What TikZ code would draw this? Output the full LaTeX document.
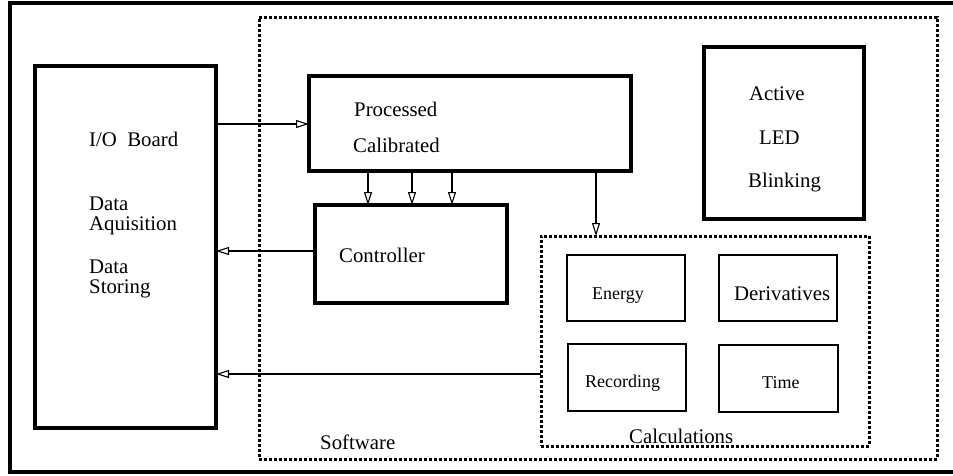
\documentclass[tikz,border=0pt]{standalone}
\usepackage{fontspec}
\setmainfont{Liberation Serif}
\usetikzlibrary{arrows.meta}
\begin{document}
\begin{tikzpicture}[x=1pt,y=-1pt,
  thickbox/.style={draw, line width=3.2pt, inner sep=0pt, outer sep=0pt},
  thinbox/.style={draw, line width=1.4pt, inner sep=0pt, outer sep=0pt},
  dotbox/.style={draw, line width=3pt, dash pattern=on 2.6pt off 2.4pt, inner sep=0pt, outer sep=0pt},
  arr/.style={line width=1.1pt, -{Triangle[open, length=13pt, width=8pt, line width=1.1pt]}},
  lbl/.style={anchor=base west, inner sep=0pt, font=\fontsize{20.8}{22}\selectfont},
  slbl/.style={anchor=base west, inner sep=0pt, font=\fontsize{18}{20}\selectfont}]
\useasboundingbox (0,0) rectangle (953,475);
\fill[white] (0,0) rectangle (953,475);
% outer frame
\node[thickbox, minimum width=950pt, minimum height=469pt] (frame) at (485,237.5) {};
% software region
\node[dotbox, minimum width=678pt, minimum height=442pt] (soft) at (598,238) {};
% boxes
\node[thickbox, minimum width=181pt, minimum height=362pt] (io) at (125.5,247) {};
\node[thickbox, minimum width=322pt, minimum height=95pt] (proc) at (470,123.5) {};
\node[thickbox, minimum width=192pt, minimum height=98pt] (ctrl) at (411,254) {};
\node[thickbox, minimum width=160pt, minimum height=172pt] (led) at (784,133) {};
\node[dotbox, minimum width=328pt, minimum height=210pt] (calc) at (705,341) {};
\node[thinbox, minimum width=118pt, minimum height=66pt] (energy) at (626,288) {};
\node[thinbox, minimum width=118pt, minimum height=66pt] (deriv) at (778,288) {};
\node[thinbox, minimum width=118pt, minimum height=67pt] (record) at (627,377.5) {};
\node[thinbox, minimum width=119pt, minimum height=67pt] (time) at (778.5,378.5) {};
% texts
\node[lbl] (tio) at (89,146) {I/O\ \ Board};
\node[lbl] (tda) at (89,210) {Data};
\node[lbl] (taq) at (89,230) {Aquisition};
\node[lbl] (tds) at (89,273) {Data};
\node[lbl] (tst) at (89,293) {Storing};
\node[lbl] (tpr) at (354,116) {Processed};
\node[lbl] (tca) at (353,152) {Calibrated};
\node[lbl] (tco) at (339,262) {Controller};
\node[lbl] (tac) at (749,100) {Active};
\node[lbl] (tle) at (759,144) {LED};
\node[lbl] (tbl) at (748,187) {Blinking};
\node[slbl] (ten) at (592,299) {Energy};
\node[lbl] (tde) at (734,300) {Derivatives};
\node[slbl] (tre) at (585,387) {Recording};
\node[slbl] (tti) at (762,388) {Time};
\node[lbl] (tcl) at (629,443) {Calculations};
\node[lbl] (tsw) at (320,449) {Software};
% connectors
\draw[arr] (io.east |- 0,124) -- (proc.west |- 0,124);
\foreach \xx in {368,412,452}
  \draw[arr] (proc.south -| \xx,0) -- (ctrl.north -| \xx,0);
\draw[arr] (ctrl.west |- 0,251) -- (io.east |- 0,251);
\draw[arr] (proc.south -| 596,0) -- (calc.north -| 596,0);
\draw[arr] (calc.west |- 0,374) -- (io.east |- 0,374);
\end{tikzpicture}
\end{document}
